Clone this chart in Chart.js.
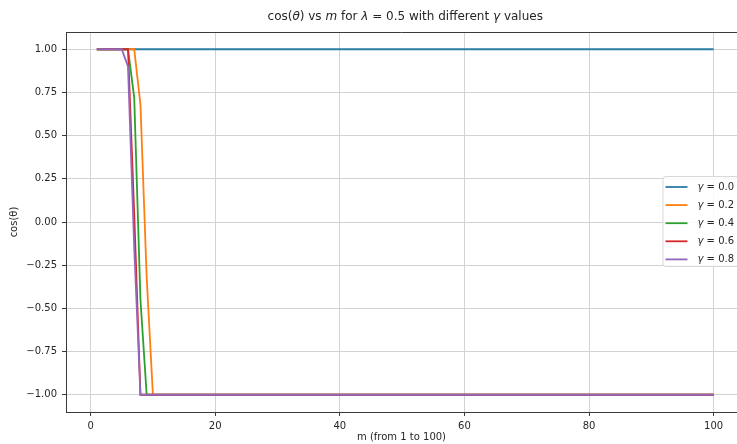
<!DOCTYPE html>
<html>
<head>
<meta charset="utf-8">
<script src="https://cdn.jsdelivr.net/npm/chart.js@4"></script>
<style>
  html, body { margin: 0; padding: 0; background: #fff; }
  canvas { display: block; }
</style>
</head>
<body>
<canvas id="chart" width="737" height="444"></canvas>
<script>
"use strict";

/* ---------- data: cos(theta) against m, one line per gamma ---------- */
const gammas = [0.0, 0.2, 0.4, 0.6, 0.8];
const colors = ["#2a7ca3", "#ff7f0e", "#2ca02c", "#d62728", "#9467bd"];

// m where each line bends, and cos(theta) there (flat elsewhere)
const mG00 = [1, 100];
const cosG00 = [1, 1];
const mG02 = [1, 7, 8, 9, 10, 100];
const cosG02 = [1, 1, 0.68, -0.32, -1, -1];
const mG04 = [1, 6, 7, 8, 9, 100];
const cosG04 = [1, 1, 0.72, -0.45, -1, -1];
const mG06 = [1, 6, 7, 8, 100];
const cosG06 = [1, 1, 0.05, -1, -1];
const mG08 = [1, 5, 6, 7, 8, 100];
const cosG08 = [1, 1, 0.9, -0.15, -1, -1];

const mSeries = [mG00, mG02, mG04, mG06, mG08];
const cosSeries = [cosG00, cosG02, cosG04, cosG06, cosG08];

const xTicks = [0, 20, 40, 60, 80, 100];
const yTicks = [-1, -0.75, -0.5, -0.25, 0, 0.25, 0.5, 0.75, 1];

// full x extent of the axes box; its right end falls past the canvas edge
const X_LO = -3.95, X_HI = 104.95, X_VISIBLE = 103.75;

const FONT = "'DejaVu Sans', sans-serif";
const INK = "#262626";

/* ---------- title with italic symbols ---------- */
const titleParts = [["cos(", false], ["θ", true], [") vs ", false], ["m", true],
  [" for ", false], ["λ", true], [" = 0.5 with different ", false], ["γ", true], [" values", false]];

const titlePlugin = {
  id: "mathTitle",
  afterDraw(chart) {
    const { ctx, chartArea: a } = chart;
    const right = chart.scales.x.getPixelForValue(X_HI);
    const fontOf = it => (it ? "italic " : "") + "12px " + FONT;
    ctx.save();
    let total = 0;
    titleParts.forEach(([t, it]) => { ctx.font = fontOf(it); total += ctx.measureText(t).width; });
    let x = (a.left + right) / 2 - total / 2;
    ctx.fillStyle = INK;
    ctx.textBaseline = "middle";
    titleParts.forEach(([t, it]) => {
      ctx.font = fontOf(it);
      ctx.fillText(t, x, 17);
      x += ctx.measureText(t).width;
    });
    ctx.restore();
  }
};

/* ---------- top spine + legend box ---------- */
const framePlugin = {
  id: "frame",
  afterDraw(chart) {
    const { ctx, chartArea: a } = chart;
    const right = chart.scales.x.getPixelForValue(X_HI);
    ctx.save();
    ctx.strokeStyle = "#3a3a3a";
    ctx.lineWidth = 1;
    ctx.beginPath();
    ctx.moveTo(a.left, a.top + 0.5);
    ctx.lineTo(a.right, a.top + 0.5);
    ctx.stroke();

    // legend, centre right of the axes box
    const w = 77, h = 90, rowH = 18.1;
    const x = right - 5 - w, y = (a.top + a.bottom) / 2 - h / 2 - 1;
    ctx.beginPath();
    ctx.roundRect(x + 0.5, y + 0.5, w, h, 3);
    ctx.fillStyle = "rgba(255,255,255,0.85)";
    ctx.fill();
    ctx.strokeStyle = "#d8d8d8";
    ctx.stroke();
    ctx.textBaseline = "middle";
    chart.data.datasets.forEach((ds, i) => {
      const cy = y + 11 + i * rowH;
      ctx.strokeStyle = ds.borderColor;
      ctx.lineWidth = ds.borderWidth;
      ctx.beginPath();
      ctx.moveTo(x + 3, cy);
      ctx.lineTo(x + 25, cy);
      ctx.stroke();
      ctx.fillStyle = INK;
      ctx.font = "italic 10px " + FONT;
      ctx.fillText("γ", x + 35, cy);
      const gw = ctx.measureText("γ").width;
      ctx.font = "10px " + FONT;
      ctx.fillText(" = " + gammas[i].toFixed(1), x + 35 + gw, cy);
    });
    ctx.restore();
  }
};

const fmtY = v => v.toFixed(2).replace("-", "\u2212");

new Chart(document.getElementById("chart"), {
  type: "line",
  data: {
    datasets: gammas.map((g, i) => ({
      label: "γ = " + g.toFixed(1),
      data: mSeries[i].map((m, k) => ({ x: m, y: cosSeries[i][k] })),
      borderColor: colors[i],
      borderWidth: 1.8,
      pointRadius: 0,
      tension: 0,
      fill: false,
      order: gammas.length - 1 - i
    }))
  },
  options: {
    responsive: false,
    animation: false,
    parsing: false,
    layout: { padding: { top: 32, right: 0, left: 0, bottom: 0 } },
    plugins: { legend: { display: false }, title: { display: false }, tooltip: { enabled: false } },
    scales: {
      x: {
        type: "linear",
        min: X_LO, max: X_VISIBLE,
        afterBuildTicks: s => { s.ticks = xTicks.map(v => ({ value: v })); },
        afterFit: s => { s.height = 32; },
        ticks: { color: INK, font: { family: FONT, size: 10 }, padding: 4, autoSkip: false,
          callback: v => String(v), maxRotation: 0 },
        grid: { color: "#d2d2d2", tickColor: "#3a3a3a", tickLength: 4, lineWidth: 1 },
        border: { display: true, color: "#3a3a3a", width: 1 },
        title: { display: true, text: "m (from 1 to 100)", color: INK,
          font: { family: FONT, size: 10 }, padding: { top: 0, bottom: 1 } }
      },
      y: {
        type: "linear",
        min: -1.1, max: 1.1,
        afterBuildTicks: s => { s.ticks = yTicks.map(v => ({ value: v })); },
        afterFit: s => { s.width = 66; },
        ticks: { color: INK, font: { family: FONT, size: 10 }, padding: 5, autoSkip: false,
          callback: v => fmtY(v) },
        grid: { color: "#d2d2d2", tickColor: "#3a3a3a", tickLength: 4, lineWidth: 1 },
        border: { display: true, color: "#3a3a3a", width: 1 },
        title: { display: true, text: "cos(θ)", color: INK,
          font: { family: FONT, size: 10 }, padding: { top: 8, bottom: 0 } }
      }
    }
  },
  plugins: [titlePlugin, framePlugin]
});
</script>
</body>
</html>
